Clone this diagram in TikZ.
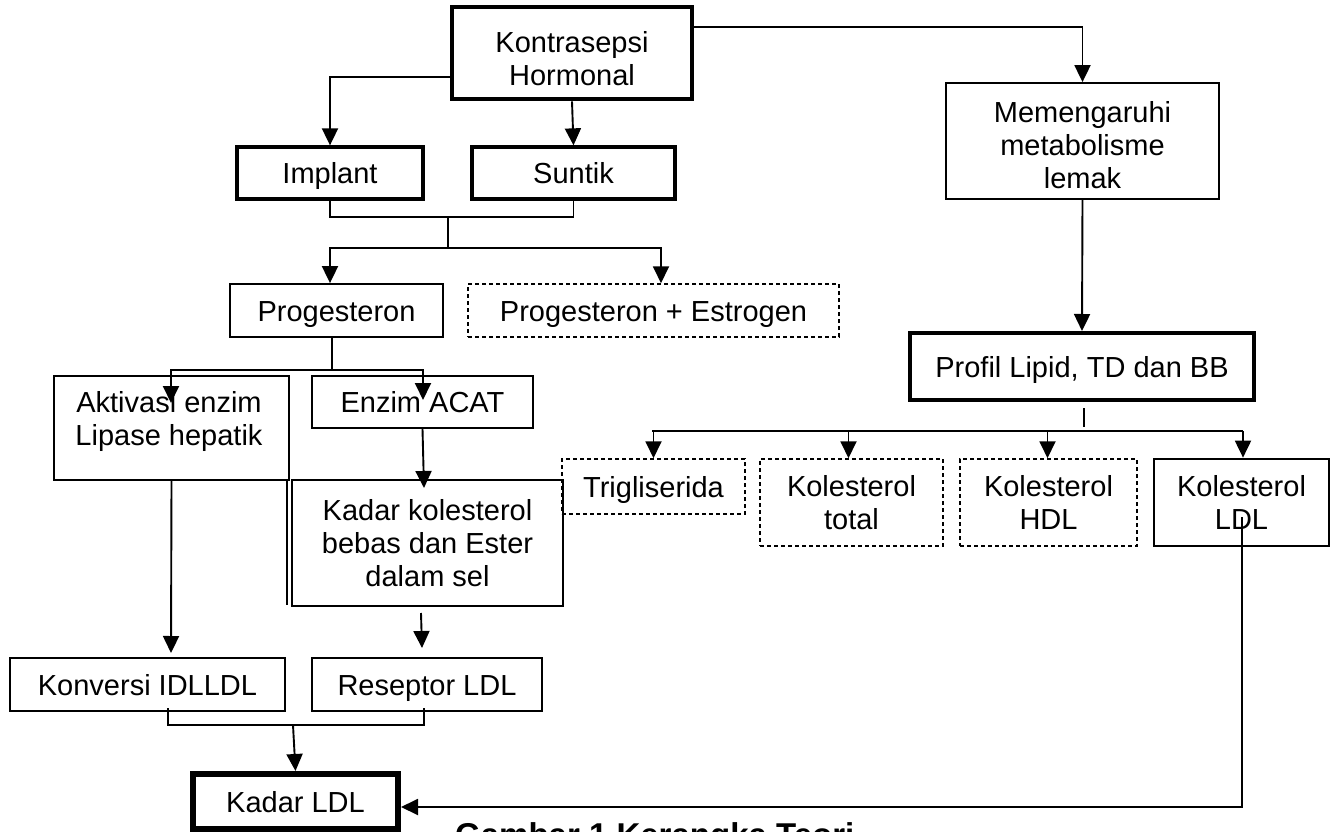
\documentclass[tikz,border=0pt]{standalone}
\usepackage{fontspec}
\setmainfont{Liberation Sans}
\usetikzlibrary{arrows.meta}
\begin{document}
\begin{tikzpicture}[x=1pt,y=-1pt,
  box/.style={draw, line width=1.8pt, inner sep=2pt, align=center, font=\fontsize{29}{33}\selectfont},
  one/.style={text height=21pt, text depth=0pt},
  dbox/.style={box, dashed, line width=1.5pt, dash pattern=on 4pt off 3pt},
  lbl/.style={inner sep=0pt, align=center, font=\fontsize{29}{33}\selectfont},
  conn/.style={line width=1.9pt},
  arr/.style={conn, -{Triangle[length=17pt,width=16pt]}}
]
\useasboundingbox (0,0) rectangle (1339,832);
\clip (0,0) rectangle (1339,832);
\fill[white] (0,0) rectangle (1339,832);

% boxes
\node[box, line width=4.7pt, minimum width=240pt, minimum height=92pt] (K) at (572,53) {};
\node[lbl] (Kt) at (572,58.5) {Kontrasepsi\\Hormonal};
\node[box, one, line width=3.3pt, minimum width=186pt, minimum height=52pt] (I) at (330,173) {Implant};
\node[box, one, line width=3.3pt, minimum width=203pt, minimum height=52pt] (S) at (573.5,173) {Suntik};
\node[box, minimum width=273pt, minimum height=116pt] (M) at (1082.5,141) {};
\node[lbl] (Mt) at (1082.5,145) {Memengaruhi\\metabolisme\\lemak};
\node[box, one, line width=4pt, minimum width=344pt, minimum height=67pt] (P) at (1082,366.5) {Profil Lipid, TD dan BB};
\node[box, one, minimum width=213pt, minimum height=53pt] (Pg) at (336.5,310.5) {Progesteron};
\node[dbox, one, minimum width=371pt, minimum height=53pt] (PE) at (653.5,310.5) {Progesteron + Estrogen};
\node[box, minimum width=235pt, minimum height=104pt] (A) at (171.5,428) {};
\node[lbl] (At) at (169,421) {Aktivasi enzim\\Lipase hepatik};
\node[box, one, minimum width=221pt, minimum height=52pt] (C) at (422.5,402) {Enzim ACAT};
\node[box, minimum width=271pt, minimum height=126pt] (KK) at (427.5,543) {Kadar kolesterol\\bebas dan Ester\\dalam sel};
\draw[line width=1.6pt] (KK.north west) ++(-4pt,0) -- ++(0,-126pt);
\node[dbox, one, minimum width=183pt, minimum height=55pt] (T) at (653.5,486.5) {Trigliserida};
\node[dbox, minimum width=183pt, minimum height=87pt] (KT) at (851.5,502.5) {Kolesterol\\total};
\node[dbox, minimum width=177pt, minimum height=87pt] (H) at (1048.5,502.5) {Kolesterol\\HDL};
\node[box, line width=2.7pt, minimum width=175pt, minimum height=87pt] (L) at (1241.5,502.5) {Kolesterol\\LDL};
\node[box, one, minimum width=275pt, minimum height=53pt] (KV) at (147.5,684.5) {Konversi IDLLDL};
\node[box, one, minimum width=230pt, minimum height=53pt] (R) at (427,684.5) {Reseptor LDL};
\node[box, one, line width=6pt, minimum width=205pt, minimum height=55pt] (KL) at (295.5,801.5) {Kadar LDL};

% coordinates
\coordinate (is) at (448,217);
\coordinate (js) at (448,248);
\coordinate (pj) at (332,370);
\coordinate (atip) at (171,403);
\coordinate (ctip) at (423,400);
\coordinate (kktip) at (424,488);
\coordinate (kvtip) at (171,653);
\coordinate (rs) at (421,613);
\coordinate (rtip) at (422,648);
\coordinate (b1) at (168,708);
\coordinate (b2) at (424,708);
\coordinate (bs) at (293,725);
\coordinate (ps1) at (1084,408);
\coordinate (ps2) at (1084,427);
\coordinate (hl) at (652,431);
\coordinate (hr) at (1243,431);
\coordinate (ls) at (1242,517);

% connectors
\draw[arr] ([yshift=-24pt]K.west) -| (I.north);
\draw[arr] (K.south) -- (S.north);
\draw[arr] ([yshift=26pt]K.east) -| (M.north);
\draw[arr] (M.south) -- (P.north);

\draw[conn, line width=1.5pt] (I.south) |- (is) -| (S.south);
\draw[conn, line width=1.5pt] (is) -- (js);
\draw[arr] (js) -| ([xshift=-6.5pt]Pg.north);
\draw[arr] (js) -| ([xshift=7.5pt]PE.north);

\draw[conn, line width=1.5pt] ([xshift=-4.5pt]Pg.south) -- (pj);
\draw[arr] (pj) -| (atip);
\draw[arr] (pj) -| (ctip);
\draw[arr] (C.south) -- (kktip);
\draw[arr] (A.south) -- (kvtip);
\draw[arr] (rs) -- (rtip);

\draw[conn, line width=1.5pt] (b1) |- (bs) -| (b2);
\draw[arr] (bs) -- (KL.north);

\draw[conn, line width=1.5pt] (ps1) -- (ps2);
\draw[conn] (hl) -- (hr);
\draw[arr] (T.north |- hl) -- (T.north);
\draw[arr] ([xshift=-3pt]KT.north |- hl) -- ([xshift=-3pt]KT.north);
\draw[arr] ([xshift=-1pt]H.north |- hl) -- ([xshift=-1pt]H.north);
\draw[arr] (hr) -- ([xshift=1.5pt]L.north);

\draw[arr] (ls) |- ([yshift=-5.5pt]KL.east);

% caption (cut off at the lower edge, as in the reference)
\node[anchor=base west, inner sep=0pt, font=\bfseries\fontsize{33}{38}\selectfont] (cap) at (455,846) {Gambar 1 Kerangka Teori};
\end{tikzpicture}
\end{document}
